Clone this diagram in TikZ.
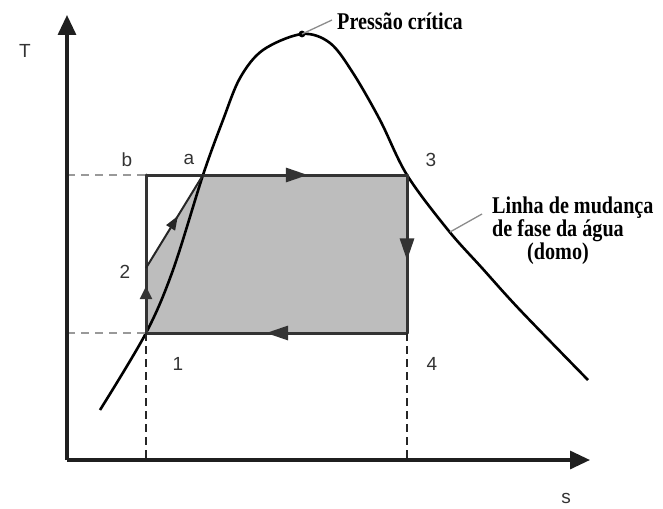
\documentclass[tikz,border=0pt]{standalone}
\usepackage{fontspec}
\setmainfont{Liberation Sans}
\newfontfamily\heavyserif{Liberation Serif}
\usetikzlibrary{arrows.meta,decorations.markings}
\newcommand{\sqz}[1]{\scalebox{0.84}[1]{#1}}
\tikzset{
  axisline/.style={line width=3.2pt,draw=black!88,-{Triangle[length=20pt,width=18pt]}},
  edge/.style={line width=3pt,draw=black!80,line cap=round},
  domeline/.style={line width=2.6pt,draw=black},
  hdash/.style={line width=2pt,draw=black!40,dash pattern=on 8pt off 6pt},
  vdash/.style={line width=1.6pt,draw=black!85,dash pattern=on 8pt off 5pt},
  leader/.style={line width=1.3pt,draw=black!45},
  lbl/.style={font=\fontsize{19}{22}\selectfont,text=black!80,inner sep=0pt},
  boldlbl/.style={font=\heavyserif\bfseries\fontsize{24}{23}\selectfont,inner sep=0pt,anchor=base west},
  midarrow/.style 2 args={postaction={decorate,decoration={markings,mark=at position #1 with {\arrow{#2}}}}}
}
\begin{document}
\begin{tikzpicture}[x=1pt,y=-1pt]
\useasboundingbox (0,0) rectangle (663,508);
\coordinate (O) at (67,460);
\coordinate (Ytip) at (67,15);
\coordinate (Xtip) at (590,460);
\coordinate (p1) at (146,333);
\coordinate (p2) at (146,268);
\coordinate (pa) at (203,175);
\coordinate (pb) at (146,175);
\coordinate (p3) at (407,175);
\coordinate (p4) at (407,333);
\coordinate (yb) at (67,175);
\coordinate (y1) at (67,333);
\coordinate (x1) at (146,460);
\coordinate (x4) at (407,460);
\coordinate (crit) at (302,34);
\coordinate (critend) at (332,20);
\coordinate (domept) at (450,232);
\coordinate (domeend) at (482,214);

% shaded cycle area
\fill[black!26] (p1) -- (p2) -- (pa) -- (p3) -- (p4) -- cycle;

% dome
\draw[domeline] plot[smooth,tension=0.55] coordinates {(100,410) (p1) (173,270) (pa) (223,120) (240,78) (263,50) (crit) (330,43) (353,73) (380,120) (p3) (448,230) (482,268) (520,310) (588,380)};

% cycle edges
\draw[edge,midarrow={0.62}{Triangle[length=22pt,width=14pt]}] (pb) -- (p3);
\draw[edge,midarrow={0.54}{Triangle[length=22pt,width=14pt]}] (p3) -- (p4);
\draw[edge,midarrow={0.54}{Triangle[length=22pt,width=14pt]}] (p4) -- (p1);
\draw[edge,midarrow={0.72}{Triangle[length=13pt,width=12pt]}] (p1) -- (p2);
\draw[edge] (p2) -- (pb);
\draw[line width=2pt,draw=black!85,midarrow={0.56}{Triangle[length=14pt,width=10pt]}] (p2) -- (pa);

% dashed guides
\draw[hdash] (yb) -- (pb);
\draw[hdash] (y1) -- (p1);
\draw[vdash] (p1) -- (x1);
\draw[vdash] (p4) -- (x4);

% axes
\draw[axisline] (O) -- (Ytip);
\draw[axisline] (O) -- (Xtip);

% critical point
\fill[black] (crit) circle (3.4pt);
\draw[leader] (crit) -- (critend);
\node[boldlbl] (critlbl) at (337,30) {\sqz{Pressão crítica}};

% dome label
\draw[leader] (domept) -- (domeend);
\node[boldlbl] (dl1) at (492,213) {\sqz{Linha de mudança}};
\node[boldlbl] (dl2) at (492,236) {\sqz{de fase da água}};
\node[boldlbl] (dl3) at (527,259) {\sqz{(domo)}};

% labels
\node[lbl] (lT) at (25,51) {T};
\node[lbl] (ls) at (566,498) {s};
\node[lbl] (lb) at (127,160) {b};
\node[lbl] (la) at (189,159) {a};
\node[lbl] (l2) at (125,272) {2};
\node[lbl] (l3) at (431,160) {3};
\node[lbl] (l1) at (178,364) {1};
\node[lbl] (l4) at (432,364) {4};
\end{tikzpicture}
\end{document}
